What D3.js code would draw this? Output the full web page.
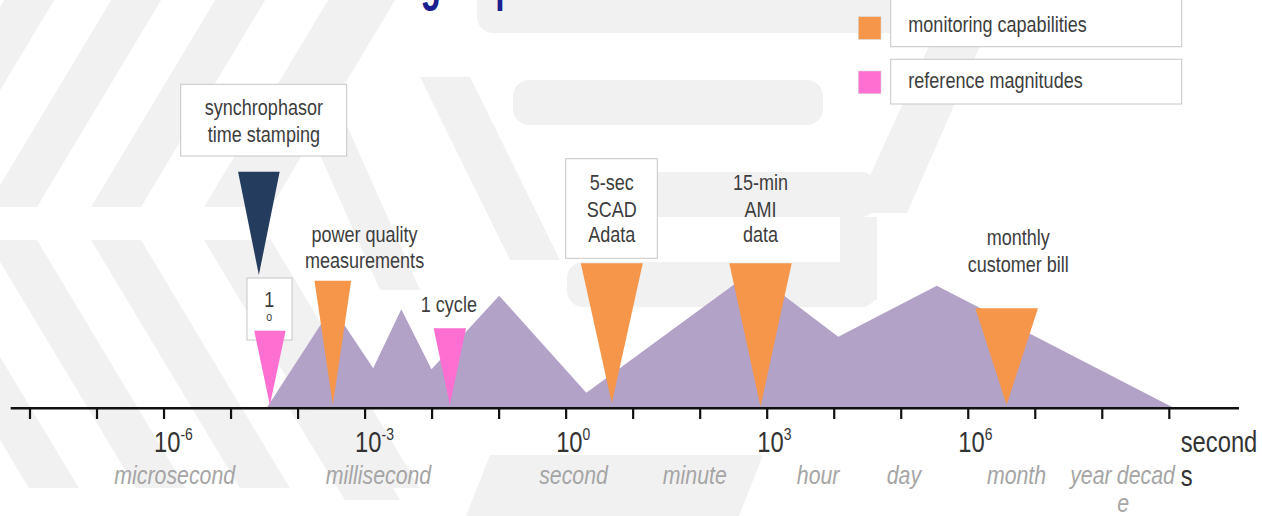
<!DOCTYPE html>
<html>
<head>
<meta charset="utf-8">
<script src="https://cdn.jsdelivr.net/npm/d3@7"></script>
<style>
  html, body { margin: 0; padding: 0; background: #fff; }
  svg { display: block; }
</style>
</head>
<body>
<div id="chart"></div>
<script>
{
  // time axis: decades of seconds
  const TICK_EXPONENTS = [-8, -7, -6, -5, -4, -3, -2, -1, 0, 1, 2, 3, 4, 5, 6, 7, 8, 9];
  const LABELLED_EXPONENTS = [-6, -3, 0, 3, 6];

  // unit names under the axis (log10 seconds where each name sits)
  const UNIT_NAMES = ["microsecond", "millisecond", "second", "minute", "hour", "day", "month", "year", "decad"];
  const UNIT_EXP = [-5.84, -2.8, 0.11, 1.92, 3.76, 5.04, 6.72, 7.83, 8.65];

  // purple "mountain" profile: time (s) and relative height
  const AREA_SECONDS = [3.47e-5, 3.24e-4, 1.32e-3, 3.47e-3, 9.8e-3, 0.1, 2.0, 589, 11500, 339000, 1.1e9];
  const AREA_LEVEL = [0, 100.3, 38.7, 97.7, 37.7, 111.3, 14.3, 135.6, 70.3, 121.3, 0];

  // inverted triangle markers
  const MARKER_NAMES = ["synchrophasor", "one-degree", "power quality", "one cycle", "5-sec SCADA", "15-min AMI", "monthly bill"];
  const MARKER_KIND = ["sync", "reference", "monitoring", "reference", "monitoring", "monitoring", "monitoring"];
  const MARKER_SECONDS = [2.6e-5, 3.8e-5, 3.3e-4, 0.0184, 4.8, 795, 3.74e6];
  const MARKER_TOP = [235.3, 76.3, 126.3, 78.7, 143.7, 143.7, 98.7];
  const MARKER_BOTTOM = [132, 2, 2, 2, 3.7, 0.3, 2];

  const LEGEND_LABELS = ["monitoring capabilities", "reference magnitudes"];
  const LEGEND_KINDS = ["monitoring", "reference"];

  const width = 1262;
  const height = 516;
  const SX = 0.82; // the slide text is horizontally squeezed
  const FONT = "'Liberation Sans', Arial, Helvetica, sans-serif";

  const COLORS = {
    monitoring: "#f5964a",
    reference: "#ff6fd2",
    sync: "#243d5e",
    area: "#b2a2c8",
    wm: "#f1f1f1",
    text: "#3d3d3d",
    unit: "#a5a5a5",
    title: "#1b1f8f"
  };
  const MARKER_WIDTH = [41.6, 31.4, 36.7, 32.4, 62, 62.4, 62.7];

  const svg = d3.select("#chart").append("svg")
    .attr("width", width)
    .attr("height", height)
    .style("background", "#fff");

  const x = d3.scaleLog().domain([1e-8, 1e9]).range([30, 1169.3]);
  const y = d3.scaleLinear().domain([0, 250]).range([407, 157]);
  const xe = e => x(Math.pow(10, e));

  function txt(g, px, py, s, size, opts = {}) {
    return g.append("text")
      .attr("transform", `translate(${px},${py}) scale(${opts.sx || SX},1)`)
      .attr("text-anchor", opts.anchor || "middle")
      .attr("font-family", FONT)
      .attr("font-size", size)
      .attr("font-style", opts.italic ? "italic" : "normal")
      .attr("font-weight", opts.bold ? "bold" : "normal")
      .attr("fill", opts.color || COLORS.text)
      .text(s);
  }

  // ---- faint watermark in the background ----
  const gWm = svg.append("g").attr("fill", COLORS.wm);
  const slant = 0.6;
  [-120, -13, 91, 204].forEach(a => {
    const w = a === 204 ? 67 : 50;
    // upper "/" stripes
    gWm.append("path").attr("d",
      `M${a + slant * 207},0 L${a + w + slant * 207},0 L${a + w},207 L${a},207 Z`);
    // lower "\" stripes
    gWm.append("path").attr("d",
      `M${a},240 L${a + w},240 L${a + w + slant * 248},488 L${a + slant * 248},488 Z`);
  });
  const bars = [[477, 0, 430, 33], [513, 80, 310, 45], [567, 172, 310, 45], [567, 262, 310, 45]];
  bars.forEach(([bx, by, bw, bh]) => {
    gWm.append("rect").attr("x", bx).attr("y", by - (by === 0 ? 20 : 0))
      .attr("width", bw).attr("height", bh + (by === 0 ? 20 : 0)).attr("rx", 16);
  });
  gWm.append("path").attr("d", "M420,77 L470,77 L560,260 L510,260 Z");
  gWm.append("path").attr("d", "M300,110 L340,110 L420,290 L380,290 Z");
  gWm.append("path").attr("d", "M950,0 L1000,0 L907,213 L853,213 Z");
  gWm.append("path").attr("d", "M840,217 L877,217 L877,300 L840,300 Z");
  gWm.append("path").attr("d", "M290,410 L345,410 L400,500 L345,500 Z");
  gWm.append("path").attr("d", "M490,455 L763,455 L739,516 L466,516 Z");

  // ---- title (cut off at the top of the frame, only descenders show) ----
  txt(svg, 441, -1, "Monitoring", 56, { anchor: "end", bold: true, color: COLORS.title, sx: 0.6 });
  txt(svg, 458, -1, "capabilities", 56, { anchor: "start", bold: true, color: COLORS.title, sx: 0.6 });

  // ---- purple area ----
  const areaData = AREA_SECONDS.map((s, i) => ({ s, v: AREA_LEVEL[i] }));
  svg.append("path")
    .datum(areaData)
    .attr("fill", COLORS.area)
    .attr("d", d3.area().x(d => x(d.s)).y0(y(0)).y1(d => y(d.v)));

  // ---- label boxes (white, thin grey border) ----
  const boxes = [[180.7, 84.3, 166, 71.7], [247, 278, 45, 62], [565.7, 158.7, 91.6, 99.6]];
  svg.append("g").selectAll("rect").data(boxes).join("rect")
    .attr("x", d => d[0]).attr("y", d => d[1])
    .attr("width", d => d[2]).attr("height", d => d[3])
    .attr("fill", "#fff").attr("stroke", "#c6c6c6").attr("stroke-width", 1);

  // ---- triangle markers ----
  const markers = MARKER_NAMES.map((name, i) => ({
    name, kind: MARKER_KIND[i], s: MARKER_SECONDS[i],
    top: MARKER_TOP[i], bottom: MARKER_BOTTOM[i], w: MARKER_WIDTH[i]
  }));
  svg.append("g").selectAll("path").data(markers).join("path")
    .attr("fill", d => COLORS[d.kind])
    .attr("d", d => {
      const cx = x(d.s);
      return `M${cx - d.w / 2},${y(d.top)} L${cx + d.w / 2},${y(d.top)} L${cx},${y(d.bottom)} Z`;
    });

  // ---- marker labels ----
  const gLab = svg.append("g");
  const labelLines = [
    { i: 0, dx: 5, lines: ["synchrophasor", "time stamping"], base: [115, 141.7] },
    { i: 2, dx: 31.7, lines: ["power quality", "measurements"], base: [241.7, 268] },
    { i: 3, dx: -1, lines: ["1 cycle"], base: [312] },
    { i: 4, dx: 0, lines: ["5-sec", "SCAD", "Adata"], base: [190, 216.7, 241.7] },
    { i: 5, dx: 0, lines: ["15-min", "AMI", "data"], base: [190, 216.7, 241.7] },
    { i: 6, dx: 11.6, lines: ["monthly", "customer bill"], base: [245, 271.7] }
  ];
  labelLines.forEach(l => {
    const cx = x(markers[l.i].s) + l.dx;
    l.lines.forEach((s, k) => txt(gLab, cx, l.base[k], s, 22));
  });
  txt(gLab, 269.3, 307, "1", 22);
  txt(gLab, 269.3, 321, "o", 13);

  // ---- axis ----
  const gAxis = svg.append("g");
  gAxis.append("line")
    .attr("x1", 10.7).attr("x2", 1239)
    .attr("y1", 408.3).attr("y2", 408.3)
    .attr("stroke", "#111").attr("stroke-width", 2.6);
  gAxis.selectAll("line.tick").data(TICK_EXPONENTS).join("line")
    .attr("class", "tick")
    .attr("x1", d => xe(d)).attr("x2", d => xe(d))
    .attr("y1", 408).attr("y2", 419)
    .attr("stroke", "#111").attr("stroke-width", 2.2);

  LABELLED_EXPONENTS.forEach(e => {
    const t = gAxis.append("text")
      .attr("transform", `translate(${xe(e) - 10},452) scale(${SX},1)`)
      .attr("font-family", FONT)
      .attr("fill", "#333");
    t.append("tspan").attr("font-size", 29).text("10");
    t.append("tspan").attr("font-size", 17).attr("dy", -12).text(String(e));
  });

  UNIT_NAMES.forEach((n, i) => {
    txt(gAxis, xe(UNIT_EXP[i]), 484, n, 26, { italic: true, color: COLORS.unit });
  });
  txt(gAxis, 1123.3, 512, "e", 26, { italic: true, color: COLORS.unit });

  txt(gAxis, 1180.7, 451.7, "second", 29, { anchor: "start", color: "#333" });
  txt(gAxis, 1180.7, 486, "s", 29, { anchor: "start", color: "#333" });

  // ---- legend ----
  const gLeg = svg.append("g");
  LEGEND_LABELS.forEach((lab, i) => {
    const top = i === 0 ? -10 : 59.3;
    const bottom = i === 0 ? 46.7 : 104;
    gLeg.append("rect")
      .attr("x", 890.7).attr("y", top)
      .attr("width", 291).attr("height", bottom - top)
      .attr("fill", "#fff").attr("stroke", "#c6c6c6").attr("stroke-width", 1);
    gLeg.append("rect")
      .attr("x", 858.3).attr("y", i === 0 ? 16.7 : 71)
      .attr("width", 22.7).attr("height", 22.7)
      .attr("fill", COLORS[LEGEND_KINDS[i]])
      .attr("stroke", "#d8d8d8").attr("stroke-width", 0.6);
    txt(gLeg, 908.3, i === 0 ? 32.3 : 88.3, lab, 22, { anchor: "start" });
  });
}
</script>
</body>
</html>
